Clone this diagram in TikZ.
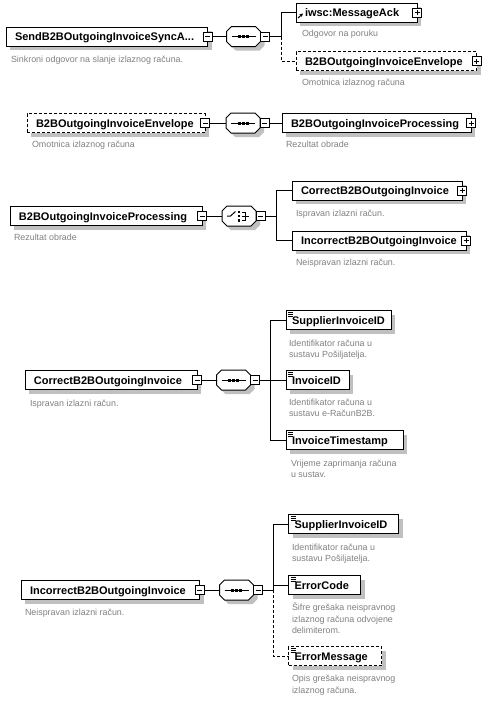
\documentclass[tikz,border=0pt]{standalone}
\usepackage{fontspec}
\setmainfont{Liberation Sans}
\usetikzlibrary{shadows,arrows.meta}
\definecolor{shadowgray}{RGB}{192,192,192}
\definecolor{descgray}{RGB}{128,128,128}
\hyphenpenalty=10000
\exhyphenpenalty=10000
\tikzset{
 every node/.style={inner sep=0pt, outer sep=0pt},
 opt/.style={dash pattern=on 3pt off 2pt},
 elem/.style={draw, fill=white,
   general shadow={shadow xshift=4pt, shadow yshift=-4pt, fill=shadowgray},
   font=\fontsize{11}{13}\selectfont\bfseries, minimum height=19pt,
   text height=10.5pt, text depth=2.5pt, align=left, anchor=west, inner ysep=0pt},
 cel/.style={elem, inner xsep=9pt},
 simpicon/.style={path picture={
   \foreach \k in {2,4,6}{\draw[solid, line width=0.9pt] ([xshift=2pt,yshift=-\k pt]path picture bounding box.north west) -- ++(5pt,0pt);}}},
 sel/.style={elem, inner xsep=6pt, simpicon},
 refarrow/.style={path picture={\draw[solid, line width=1pt, -{Stealth[length=3.5pt,width=3.5pt]}] ([xshift=2pt,yshift=4pt]path picture bounding box.south west) -- ++(5pt,4.5pt);}},
 pmbase/.style={draw, solid, fill=white, minimum size=9pt, inner sep=0pt},
 minusb/.style={pmbase, path picture={\draw[line width=1pt] ([xshift=2pt]path picture bounding box.west) -- ([xshift=-2pt]path picture bounding box.east);}},
 plusb/.style={pmbase, path picture={\draw[line width=1pt] ([xshift=2pt]path picture bounding box.west) -- ([xshift=-2pt]path picture bounding box.east); \draw[line width=1pt] ([yshift=-2pt]path picture bounding box.north) -- ([yshift=2pt]path picture bounding box.south);}},
 compo/.style={minimum width=34pt, minimum height=20pt},
 desc/.style={font=\fontsize{8.9}{11.5}\selectfont, text=descgray, align=left, anchor=base west},
 octa/.pic={
   \fill[shadowgray] (-8,-6) -- (16,-6) -- (21,-1) -- (21,9) -- (16,14) -- (-8,14) -- (-13,9) -- (-13,-1) -- cycle;
   \draw[fill=white] (-12,-10) -- (12,-10) -- (17,-5) -- (17,5) -- (12,10) -- (-12,10) -- (-17,5) -- (-17,-5) -- cycle;},
 seqpic/.pic={
   \pic {octa};
   \draw (-12,0) -- (12,0);
   \fill (-5.5,-1.5) rectangle ++(3,3);
   \fill (-1.5,-1.5) rectangle ++(3,3);
   \fill (2.5,-1.5) rectangle ++(3,3);},
 choicepic/.pic={
   \pic {octa};
   \draw (-12,0) -- (-8.5,0) -- (-3.5,-4.5);
   \fill (-1.2,-5.5) rectangle ++(2.5,2.5);
   \fill (-1.2,-1.25) rectangle ++(2.5,2.5);
   \fill (-1.2,3) rectangle ++(2.5,2.5);
   \draw (3,-4) -- (6.5,-4) -- (6.5,4) -- (3,4);
   \draw (3,0) -- (10,0);},
}
\begin{document}
\begin{tikzpicture}[x=1pt,y=-1pt,line width=1pt]
\useasboundingbox (0,0) rectangle (497,715);

% ---------- Section 1 ----------
\node[cel, text width=183.5pt] (send) at (6,36.5) {SendB2BOutgoingInvoiceSyncA...};
\node[compo] (seq1) at (243.5,36.5) {};
\pic at (seq1) {seqpic};
\node[cel, refarrow, text width=103pt] (iwsc) at (296,12.5) {iwsc:MessageAck};
\node[cel, opt, text width=162.5pt] (env1) at (296,61) {B2BOutgoingInvoiceEnvelope};
\node[minusb] (sendpm) at (send.east) {};
\node[minusb] (seq1pm) at ([xshift=4.5pt]seq1.east) {};
\node[plusb] (iwscpm) at (iwsc.east) {};
\node[plusb] (env1pm) at (env1.east) {};
\coordinate (j1) at (281,36.5);
\draw (sendpm) -- (seq1);
\draw (seq1pm) -- (j1);
\draw (j1) |- (iwsc);
\draw[opt] (j1) |- (env1);
\node[desc] (dsend) at (11,62) {Sinkroni odgovor na slanje izlaznog računa.};
\node[desc] (diwsc) at (302,36) {Odgovor na poruku};
\node[desc] (denv1) at (302,85) {Omotnica izlaznog računa};

% ---------- Section 2 ----------
\node[cel, opt, text width=160pt] (env2) at (27,123) {B2BOutgoingInvoiceEnvelope};
\node[compo] (seq2) at (243,123) {};
\pic at (seq2) {seqpic};
\node[cel, text width=171pt] (proc1) at (282,123) {B2BOutgoingInvoiceProcessing};
\node[minusb] (env2pm) at (env2.east) {};
\node[minusb] (seq2pm) at ([xshift=4.5pt]seq2.east) {};
\node[plusb] (proc1pm) at (proc1.east) {};
\draw (env2pm) -- (seq2);
\draw (seq2pm) -- (proc1);
\node[desc] (denv2) at (32,147) {Omotnica izlaznog računa};
\node[desc] (dproc1) at (286,147) {Rezultat obrade};

% ---------- Section 3 ----------
\node[cel, text width=174pt] (proc2) at (10,216) {B2BOutgoingInvoiceProcessing};
\node[compo] (cho) at (239,216) {};
\pic at (cho) {choicepic};
\node[cel, text width=152pt] (corr1) at (292,190.5) {CorrectB2BOutgoingInvoice};
\node[cel, text width=156pt] (inc1) at (292,240.5) {IncorrectB2BOutgoingInvoice};
\node[minusb] (proc2pm) at (proc2.east) {};
\node[minusb] (chopm) at ([xshift=4.5pt]cho.east) {};
\node[plusb] (corr1pm) at (corr1.east) {};
\node[plusb] (inc1pm) at (inc1.east) {};
\coordinate (j3) at (276,216);
\draw (proc2pm) -- (cho);
\draw (chopm) -- (j3);
\draw (j3) |- (corr1);
\draw (j3) |- (inc1);
\node[desc] (dproc2) at (14,240) {Rezultat obrade};
\node[desc] (dcorr1) at (296,216) {Ispravan izlazni račun.};
\node[desc] (dinc1) at (296,265) {Neispravan izlazni račun.};

% ---------- Section 4 ----------
\node[cel, text width=154pt] (corr2) at (25,380) {CorrectB2BOutgoingInvoice};
\node[compo] (seq4) at (233.5,380) {};
\pic at (seq4) {seqpic};
\node[sel, text width=93pt] (sup1) at (286,320) {SupplierInvoiceID};
\node[sel, text width=51pt] (invid) at (286,380) {InvoiceID};
\node[sel, text width=105pt] (ts) at (286,440) {InvoiceTimestamp};
\node[minusb] (corr2pm) at (corr2.east) {};
\node[minusb] (seq4pm) at ([xshift=4.5pt]seq4.east) {};
\coordinate (j4) at (270,380);
\draw (corr2pm) -- (seq4);
\draw (seq4pm) -- (j4);
\draw (j4) |- (sup1);
\draw (j4) -- (invid);
\draw (j4) |- (ts);
\node[desc] (dcorr2) at (30,406) {Ispravan izlazni račun.};
\node[desc] (dsup1) at (289,357.5) {Identifikator računa u\\sustavu Pošiljatelja.};
\node[desc] (dinvid) at (289,416.5) {Identifikator računa u\\sustavu e-RačunB2B.};
\node[desc] (dts) at (291,477.5) {Vrijeme zaprimanja računa\\u sustav.};

% ---------- Section 5 ----------
\node[cel, text width=160.5pt] (inc2) at (21,590) {IncorrectB2BOutgoingInvoice};
\node[compo] (seq5) at (236.5,590) {};
\pic at (seq5) {seqpic};
\node[sel, text width=98pt] (sup2) at (288.5,524) {SupplierInvoiceID};
\node[sel, text width=60pt] (ecode) at (288.5,585) {ErrorCode};
\node[sel, opt, text width=81pt] (emsg) at (288.5,656) {ErrorMessage};
\node[minusb] (inc2pm) at (inc2.east) {};
\node[minusb] (seq5pm) at ([xshift=4.5pt]seq5.east) {};
\coordinate (j5) at (273,590);
\draw (inc2pm) -- (seq5);
\draw (seq5pm) -- (j5);
\draw (j5) |- (sup2);
\draw (j5) |- (ecode);
\draw[opt] (j5) |- (emsg);
\node[desc] (dinc2) at (25,615) {Neispravan izlazni račun.};
\node[desc] (dsup2) at (292,561.5) {Identifikator računa u\\sustavu Pošiljatelja.};
\node[desc] (decode) at (292,633.5) {Šifre grešaka neispravnog\\izlaznog računa odvojene\\delimiterom.};
\node[desc] (demsg) at (292,693) {Opis grešaka neispravnog\\izlaznog računa.};
\end{tikzpicture}
\end{document}
